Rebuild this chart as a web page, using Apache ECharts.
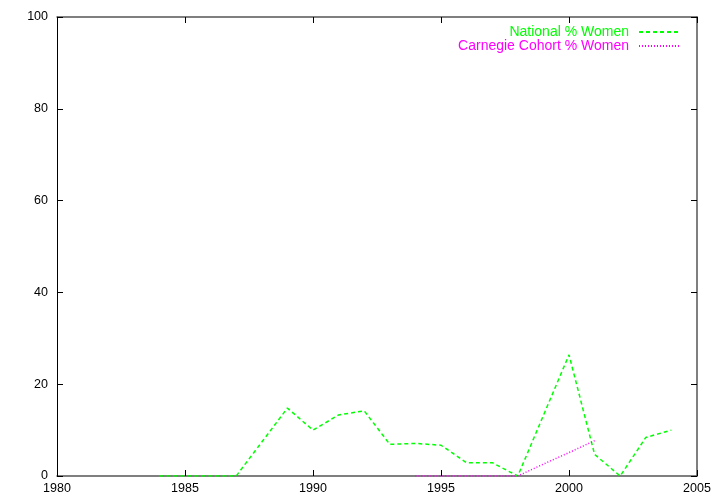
<!DOCTYPE html>
<html><head><meta charset="utf-8">
<script src="https://cdn.jsdelivr.net/npm/echarts@6/dist/echarts.min.js"></script>
<style>html,body{margin:0;padding:0;background:#fff}#c{width:720px;height:504px}</style>
</head><body><div id="c"></div>
<script>
const nationalYears = [1984,1985,1986,1987,1988,1989,1990,1991,1992,1993,1994,1995,1996,1997,1998,1999,2000,2001,2002,2003,2004];
const nationalPct   = [0,0,0,0,7.4,14.8,10.0,13.3,14.2,6.9,7.1,6.7,2.9,2.9,0,13.2,26.4,4.7,0,8.4,10.0];
const carnegieYears = [1994,1995,1996,1997,1998,1999,2000,2001];
const carnegiePct   = [0,0,0,0,0,2.6,5.1,7.7];
const seriesNames = ['National % Women','Carnegie Cohort % Women'];

const font = 'Liberation Sans, Arial, sans-serif';
const chart = echarts.init(document.getElementById('c'));
function axisStyle(col,w){
  return {
    axisLine:{show:true,onZero:false,lineStyle:{color:col,width:w}},
    axisTick:{show:true,inside:true,length:6,lineStyle:{color:'#000'}},
    splitLine:{show:false}
  };
}
chart.setOption({
  animation:false,
  backgroundColor:'#fff',
  grid:{left:57,right:23,top:17,bottom:28,containLabel:false},
  legend:{
    orient:'vertical', right:35, top:20, align:'right', itemGap:0,
    itemWidth:40, itemHeight:14,
    itemStyle:{opacity:0},
    textStyle:{fontFamily:font,fontSize:14,padding:[0,5,0,0]},
    data:seriesNames.map((n,i)=>({name:n,textStyle:{color:i===0?'#00ff00':'#ff00ff'}}))
  },
  xAxis:[
    Object.assign({type:'value',min:1980,max:2005,interval:5,position:'bottom',
      axisLabel:{color:'#000',fontFamily:font,fontSize:12.5,margin:6,formatter:v=>String(v)}},axisStyle('#555',1.5)),
    Object.assign({type:'value',min:1980,max:2005,interval:5,position:'top',
      axisLabel:{show:false}},axisStyle('#555',1.5))
  ],
  yAxis:[
    Object.assign({type:'value',min:0,max:100,interval:20,position:'left',
      axisLabel:{color:'#000',fontFamily:font,fontSize:12.5,margin:9}},axisStyle('#000',1)),
    Object.assign({type:'value',min:0,max:100,interval:20,position:'right',
      axisLabel:{show:false}},axisStyle('#555',1.5))
  ],
  series:[
    {name:seriesNames[0],type:'line',symbol:'none',
      data:nationalYears.map((y,i)=>[y,nationalPct[i]]),
      lineStyle:{color:'#00ff00',width:1.5,type:[4,3]},itemStyle:{color:'#00ff00'}},
    {name:seriesNames[1],type:'line',symbol:'none',
      data:carnegieYears.map((y,i)=>[y,carnegiePct[i]]),
      lineStyle:{color:'#ff00ff',width:1.5,type:[1,2]},itemStyle:{color:'#ff00ff'}}
  ]
});
</script></body></html>
